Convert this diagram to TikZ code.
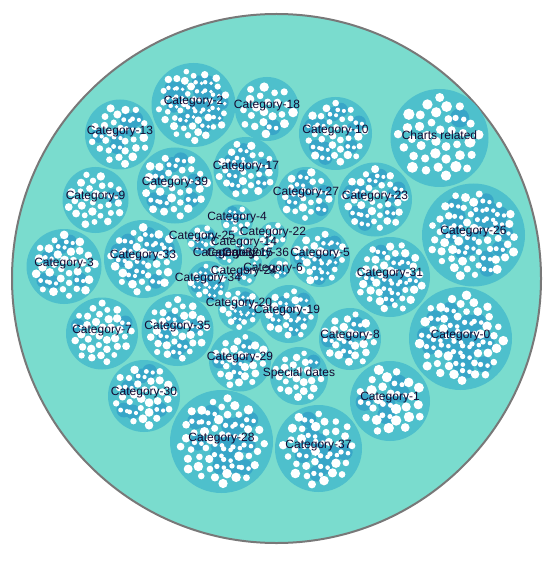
\documentclass[tikz,border=0pt]{standalone}
\usepackage{fontspec}
\setmainfont{Liberation Sans}
\usetikzlibrary{calc,positioning}
\definecolor{rootfill}{RGB}{122,220,206}
\definecolor{catfill}{RGB}{78,192,204}
\definecolor{subfill}{RGB}{56,166,200}
\definecolor{lbltext}{RGB}{20,10,50}

% circle of one category: name, x, y, radius, dot spacing, share of groups
\newcommand{\catpack}[6]{%
  \node[cat,minimum size=2*#4 pt] (#1) at (#2,#3) {};
  \pgfmathtruncatemacro{\ndots}{max(1,(0.86*#4/#5)^2)}
  \foreach \k in {1,...,\ndots}{
    \pgfmathtruncatemacro{\dk}{mod(mod(\k*\k,101)*7+\k*3+int(#2),10)}
    \pgfmathsetmacro{\rr}{#5*sqrt(\k-0.5)}
    \pgfmathtruncatemacro{\isdark}{(\dk<#6)&&(\rr<0.72*#4)}
    \ifnum\isdark=1
      \fill[subfill] ($(#1)+(\k*137.508:\rr)$) circle (1.4*#5);
    \fi
  }
  \foreach \k in {1,...,\ndots}{
    \pgfmathtruncatemacro{\dk}{mod(mod(\k*\k,101)*7+\k*3+int(#2),10)}
    \pgfmathsetmacro{\rr}{#5*sqrt(\k-0.5)}
    \pgfmathtruncatemacro{\isdark}{(\dk<#6)&&(\rr<0.72*#4)}
    \pgfmathsetmacro{\dr}{#5*(0.7+0.13*sin(mod(\k*\k,97)*47+int(#3)))}
    \ifnum\isdark=1
      \fill[white] ($(#1)+(\k*137.508:\rr)+(-0.6*#5,0)$) circle (0.46*#5);
      \fill[white] ($(#1)+(\k*137.508:\rr)+(0.6*#5,0.2*#5)$) circle (0.4*#5);
    \else
      \fill[white] ($(#1)+(\k*137.508:\rr)$) circle (\dr);
    \fi
  }%
}
\newcommand{\catlabel}[3]{\node[lbl] (#1-l) at ($(#1)+(#2)$) {#3};}

\begin{document}
\begin{tikzpicture}[x=1pt,y=-1pt,
    root/.style={circle,draw={rgb,255:red,120;green,120;blue,120},line width=2pt,fill=rootfill,inner sep=0pt},
    cat/.style={circle,fill=catfill,inner sep=0pt},
    lbl/.style={font=\fontsize{12}{12}\selectfont,text=lbltext,inner sep=0pt}]
  \useasboundingbox (0,0) rectangle (555,561);
  \node[root,minimum size=529pt] (root) at (276.5,278.5) {};

  % outer ring of categories
  \catpack{C2}{193.5}{105}{42}{4.9}{6}
  \catpack{C18}{267}{109}{32}{5.8}{1}
  \catpack{C13}{120}{134.5}{35}{5.3}{2}
  \catpack{C10}{335.5}{133.5}{36.5}{5.1}{4}
  \catpack{CR}{439.5}{138}{49}{6.8}{1}
  \catpack{C17}{246}{169.5}{32.5}{5.1}{4}
  \catpack{C39}{175}{185.5}{38}{5.5}{3}
  \catpack{C9}{95.5}{200}{33}{5.1}{1}
  \catpack{C27}{306}{196}{29}{5.1}{3}
  \catpack{C23}{375}{199.5}{37}{5.1}{4}
  \catpack{C26}{473.5}{235}{51.5}{5.5}{5}
  \catpack{C3}{64}{266.5}{37.5}{5.3}{2}
  \catpack{C33}{143}{259}{39}{5.3}{5}
  \catpack{C5}{320}{257}{30}{4.9}{4}
  \catpack{C31}{390}{277}{40}{5.1}{4}
  \catpack{C7}{102}{333.5}{36}{5.1}{1}
  \catpack{C35}{177.5}{330}{36}{5.1}{3}
  \catpack{C19}{289}{314}{29}{4.9}{4}
  \catpack{C8}{350}{339}{31}{5.3}{1}
  \catpack{C0}{460.5}{338.5}{51.5}{5.8}{5}
  \catpack{C29}{240}{360.5}{31}{5.1}{1}
  \catpack{CS}{299}{376}{29}{4.9}{1}
  \catpack{C30}{144}{396}{36}{5.3}{2}
  \catpack{C1}{390}{401}{40}{6.3}{1}
  \catpack{C28}{221.5}{441.5}{51.5}{5.8}{5}
  \catpack{C37}{318.5}{448.5}{43.5}{5.8}{3}

  % small ones in the middle
  \catpack{C4}{237}{220.5}{16}{4}{3}
  \catpack{C25}{202}{239.5}{15}{4}{3}
  \catpack{C22}{273}{236}{14}{3.8}{3}
  \catpack{C14}{244}{246}{9}{3.4}{2}
  \catpack{C32}{226}{256.5}{9}{3.4}{2}
  \catpack{C15}{256}{262}{6}{3}{0}
  \catpack{C36}{266}{252}{5.5}{3}{0}
  \catpack{C6}{279}{268}{11}{3.6}{2}
  \catpack{C24}{246}{276}{10}{3.6}{2}
  \catpack{C34}{208}{282}{21}{4.2}{3}
  \catpack{C20}{240}{309}{22}{4.2}{3}

  % labels on top
  \catlabel{C2}{0,-3}{Category-2}
  \catlabel{C18}{0,-3}{Category-18}
  \catlabel{C13}{0,-3}{Category-13}
  \catlabel{C10}{0,-3}{Category-10}
  \catlabel{CR}{0,-3}{Charts related}
  \catlabel{C17}{0,-3}{Category-17}
  \catlabel{C39}{0,-3}{Category-39}
  \catlabel{C9}{0,-3}{Category-9}
  \catlabel{C27}{0,-3}{Category-27}
  \catlabel{C23}{0,-3}{Category-23}
  \catlabel{C26}{0,-3}{Category-26}
  \catlabel{C3}{0,-3}{Category-3}
  \catlabel{C33}{0,-3}{Category-33}
  \catlabel{C36}{-10,1.5}{Category-36}
  \catlabel{C15}{-16,-8.5}{Category-15}
  \catlabel{C32}{0,-3}{Category-32}
  \catlabel{C25}{0,-3}{Category-25}
  \catlabel{C14}{0,-3}{Category-14}
  \catlabel{C22}{0,-3}{Category-22}
  \catlabel{C4}{0,-3}{Category-4}
  \catlabel{C24}{-2,-4.5}{Category-24}
  \catlabel{C6}{-6,0.5}{Category-6}
  \catlabel{C34}{0,-3.5}{Category-34}
  \catlabel{C5}{0,-3}{Category-5}
  \catlabel{C31}{0,-3}{Category-31}
  \catlabel{C20}{-1,-5.5}{Category-20}
  \catlabel{C19}{-2,-3}{Category-19}
  \catlabel{C7}{0,-3}{Category-7}
  \catlabel{C35}{0,-3}{Category-35}
  \catlabel{C8}{0,-3}{Category-8}
  \catlabel{C0}{0,-3}{Category-0}
  \catlabel{C29}{0,-3}{Category-29}
  \catlabel{CS}{0,-3}{Special dates}
  \catlabel{C30}{0,-3}{Category-30}
  \catlabel{C1}{0,-3}{Category-1}
  \catlabel{C28}{0,-3}{Category-28}
  \catlabel{C37}{0,-3}{Category-37}
\end{tikzpicture}
\end{document}
